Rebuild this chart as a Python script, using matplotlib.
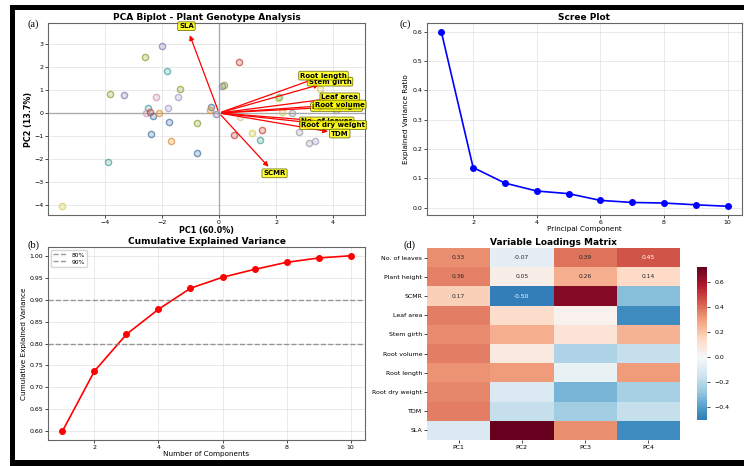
import numpy as np
import matplotlib
matplotlib.use("Agg")
import matplotlib.pyplot as plt
from matplotlib.colors import to_rgba, ListedColormap, Normalize
from matplotlib.patches import Rectangle

plt.rcParams['font.family'] = ['DejaVu Sans']

# ---- data -------------------------------------------------------------
traits = ["No. of leaves", "Plant height", "SCMR", "Leaf area", "Stem girth",
          "Root volume", "Root length", "Root dry weight", "TDM", "SLA"]
pcs = ["PC1", "PC2", "PC3", "PC4"]

pc1_load = [0.33, 0.36, 0.17, 0.37, 0.34, 0.37, 0.32, 0.35, 0.37, -0.10]
pc2_load = [-0.07, 0.05, -0.50, 0.13, 0.26, 0.07, 0.31, -0.10, -0.17, 0.72]
pc3_load = [0.39, 0.26, 0.66, 0.03, 0.10, -0.22, -0.05, -0.33, -0.25, 0.33]
pc4_load = [0.45, 0.14, -0.30, -0.45, 0.25, -0.17, 0.31, -0.24, -0.17, -0.45]

explained_ratio = [0.600, 0.137, 0.084, 0.057, 0.048, 0.025, 0.018, 0.016, 0.010, 0.005]

score_pc1 = [-1.99, -2.61, -1.84, 0.69, 0.09, 0.18, 3.54, 2.06, 2.12, -3.82,
             -3.35, -2.22, -1.38, -1.45, -2.49, -2.56, -2.43, -2.33, -2.12, -1.80,
             -0.28, -0.30, -0.12, -1.75, -0.78, -2.39, -1.70, -0.76, -3.91, -5.50,
             0.73, 2.20, 2.55, 4.10, 0.54, 1.51, 1.17, 1.43, 2.81, 3.17, 3.37]
score_pc2 = [2.90, 2.42, 1.83, 2.23, 1.17, 1.20, 1.03, 0.67, 0.71, 0.81,
             0.80, 0.71, 1.06, 0.70, 0.22, -0.01, 0.03, -0.13, -0.01, 0.20,
             0.28, 0.13, -0.06, -0.39, -0.42, -0.91, -1.22, -1.75, -2.12, -4.06,
             -0.17, 0.06, 0.01, 0.13, -0.96, -0.74, -0.88, -1.17, -0.81, -1.30, -1.22]
score_group = ["purple", "olive", "teal", "red", "purple", "olive", "yellow", "yellow", "green", "olive",
               "purple", "pink", "olive", "lavender", "teal", "pink", "red", "blue", "orange", "lavender",
               "blue", "orange", "purple", "blue", "olive", "blue", "orange", "blue", "teal", "yellow",
               "beige", "yellow", "gray", "gray", "red", "red", "yellow", "teal", "gray", "gray", "lavender"]

group_colors = {
    "purple": "#8c7fb0", "olive": "#8fa83a", "teal": "#4fa5a0", "red": "#c9483f",
    "yellow": "#d8cf55", "green": "#7cb86a", "pink": "#c99ab7", "lavender": "#a99cc6",
    "blue": "#4f78a8", "orange": "#e0953a", "beige": "#d6c49a", "gray": "#a0a0a8",
}

# cells that carry a printed value in the loadings heatmap
annot_cells = [(0, 0), (0, 1), (0, 2), (0, 3), (1, 0), (1, 1), (1, 2), (1, 3), (2, 0), (2, 1)]

# ---- figure -----------------------------------------------------------
W, H = 744, 466
fig = plt.figure(figsize=(W / 100, H / 100), dpi=100)


def box(l, t, r, b):
    return [l / W, 1 - b / H, (r - l) / W, (b - t) / H]


title_kw = dict(fontsize=6.5, fontweight="bold", pad=2)
tick_fs = 4.5
lab_fs = 5.2

# (a) biplot
ax_a = fig.add_axes(box(48, 23, 365, 215))
ax_a.grid(True, alpha=0.3, lw=0.6)
ax_a.axhline(0, color="gray", lw=1.0, alpha=0.6)
ax_a.axvline(0, color="gray", lw=1.0, alpha=0.6)
for x, y, g in zip(score_pc1, score_pc2, score_group):
    c = group_colors[g]
    ax_a.scatter(x, y, s=20, facecolor=to_rgba(c, 0.25), edgecolor=to_rgba(c, 0.75), lw=1.0, zorder=3)

sx, sy = 10.6, 4.85
for name, l1, l2 in zip(traits, pc1_load, pc2_load):
    ax_a.annotate("", xy=(l1 * sx, l2 * sy), xytext=(0, 0),
                  arrowprops=dict(arrowstyle="-|>", color="red", lw=0.9, mutation_scale=7),
                  zorder=4)
    ax_a.text(l1 * sx * 1.08, l2 * sy * 1.08, name, fontsize=5.0, fontweight="bold",
              ha="center", va="center", zorder=5,
              bbox=dict(boxstyle="round,pad=0.2", facecolor="yellow", edgecolor="#555500",
                        alpha=0.8, lw=0.6))
ax_a.set_xlim(-6.0, 5.12)
ax_a.set_ylim(-4.43, 3.91)
ax_a.set_xticks([-4, -2, 0, 2, 4])
ax_a.set_yticks([-4, -3, -2, -1, 0, 1, 2, 3])
ax_a.set_xlabel("PC1 (60.0%)", fontsize=5.8, fontweight="bold", labelpad=1)
ax_a.set_ylabel("PC2 (13.7%)", fontsize=5.8, fontweight="bold", labelpad=1)
ax_a.set_title("PCA Biplot - Plant Genotype Analysis", **title_kw)

# (c) scree plot
comps = np.arange(1, len(explained_ratio) + 1)
ax_c = fig.add_axes(box(427, 23, 742, 215))
ax_c.plot(comps, explained_ratio, "o-", color="blue", lw=1.2, ms=4)
ax_c.grid(True, alpha=0.3, lw=0.6)
ax_c.set_xlabel("Principal Component", fontsize=lab_fs, labelpad=1)
ax_c.set_ylabel("Explained Variance Ratio", fontsize=lab_fs, labelpad=2)
ax_c.set_title("Scree Plot", **title_kw)

# (b) cumulative variance
ax_b = fig.add_axes(box(48, 247, 365, 440))
cum = np.cumsum(explained_ratio)
ax_b.plot(comps, cum, "o-", color="red", lw=1.2, ms=4)
ax_b.axhline(0.8, color="gray", ls="--", lw=1.0, alpha=0.8, label="80%")
ax_b.axhline(0.9, color="gray", ls="--", lw=1.0, alpha=0.8, label="90%")
ax_b.grid(True, alpha=0.3, lw=0.6)
ax_b.legend(loc="upper left", fontsize=4.3, handlelength=2.2, borderpad=0.4, labelspacing=0.3)
ax_b.set_xlabel("Number of Components", fontsize=lab_fs, labelpad=1)
ax_b.set_ylabel("Cumulative Explained Variance", fontsize=lab_fs, labelpad=2)
ax_b.set_title("Cumulative Explained Variance", **title_kw)

# (d) loadings heatmap, diverging map centred on zero
load = np.column_stack([pc1_load, pc2_load, pc3_load, pc4_load])
vmin, vmax = load.min(), load.max()
vrange = max(vmax, -vmin)
base = plt.get_cmap("RdBu_r")
lo = (vmin + vrange) / (2 * vrange)
hi = (vmax + vrange) / (2 * vrange)
cmap = ListedColormap(base(np.linspace(lo, hi, 256)))
norm = Normalize(vmin, vmax)

ax_d = fig.add_axes(box(427, 248, 680, 440))
mesh = ax_d.pcolormesh(load, cmap=cmap, norm=norm)
ax_d.set_xlim(0, load.shape[1])
ax_d.set_ylim(load.shape[0], 0)
ax_d.set_xticks(np.arange(load.shape[1]) + 0.5)
ax_d.set_xticklabels(pcs)
ax_d.set_yticks(np.arange(load.shape[0]) + 0.5)
ax_d.set_yticklabels(traits)
for s in ax_d.spines.values():
    s.set_visible(False)
for i, j in annot_cells:
    v = load[i, j]
    r, g, b, _ = cmap(norm(v))
    lum = 0.2126 * r + 0.7152 * g + 0.0722 * b
    ax_d.text(j + 0.5, i + 0.5, f"{v:.2f}", ha="center", va="center", fontsize=4.3,
              color="white" if lum < 0.5 else "#262626")
ax_d.set_title("Variable Loadings Matrix", **title_kw)
cax = fig.add_axes(box(697, 267, 707, 420))
cb = fig.colorbar(mesh, cax=cax)
cb.outline.set_visible(False)
cb.set_ticks([-0.4, -0.2, 0.0, 0.2, 0.4, 0.6])
cax.tick_params(labelsize=tick_fs, length=2, width=0.5)

for a in (ax_a, ax_b, ax_c, ax_d):
    a.tick_params(labelsize=tick_fs, length=2, width=0.5, pad=1.5)
for a in (ax_a, ax_b, ax_c):
    for s in a.spines.values():
        s.set_color("#666666")
        s.set_linewidth(0.8)

# panel letters
for txt, (px, py) in {"(a)": (33, 24), "(c)": (405, 24), "(b)": (33, 245), "(d)": (410, 245)}.items():
    fig.text(px / W, 1 - py / H, txt, fontsize=7.5, family="Liberation Serif",
             ha="center", va="center")

# black frame
frame_kw = dict(transform=fig.transFigure, facecolor="black", edgecolor="none")
fig.add_artist(Rectangle((10 / W, 1 - 10 / H), 1 - 10 / W, 5 / H, **frame_kw))
fig.add_artist(Rectangle((10 / W, 0), 5 / W, 1 - 5 / H, **frame_kw))
fig.add_artist(Rectangle((10 / W, 0), 1 - 10 / W, 6 / H, **frame_kw))

fig.savefig("out.png", dpi=100)
